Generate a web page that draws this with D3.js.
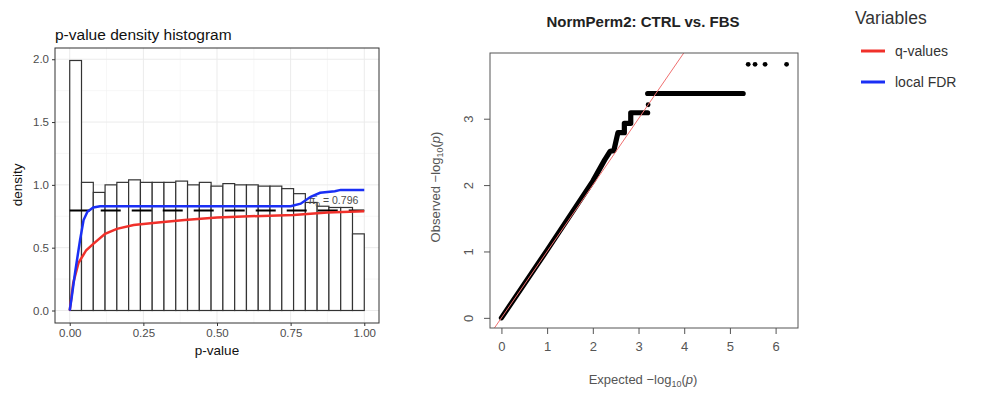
<!DOCTYPE html>
<html>
<head>
<meta charset="utf-8">
<script src="https://cdn.jsdelivr.net/npm/d3@7"></script>
<style>
  body { margin: 0; background: #fff; }
  svg { font-family: "Liberation Sans", Arial, sans-serif; }
</style>
</head>
<body>
<svg id="chart" width="983" height="393"></svg>
<script>
// histogram: 25 bins of width 0.04 on [0, 1]
var binStarts = [0.00, 0.04, 0.08, 0.12, 0.16, 0.20, 0.24, 0.28, 0.32, 0.36, 0.40, 0.44, 0.48,
                 0.52, 0.56, 0.60, 0.64, 0.68, 0.72, 0.76, 0.80, 0.84, 0.88, 0.92, 0.96]
var binDensity = [1.99, 1.02, 0.94, 1.00, 1.02, 1.04, 1.02, 1.02, 1.02, 1.03, 1.00, 1.02, 0.99,
                  1.01, 1.00, 1.00, 0.99, 0.99, 0.97, 0.93, 0.86, 0.83, 0.82, 0.82, 0.61]
var binWidth = 0.04
var pi0 = 0.796

// q-values curve
var qP = [0, 0.012, 0.03, 0.056, 0.08, 0.12, 0.16, 0.217, 0.30, 0.39, 0.50, 0.61, 0.76, 0.875, 1.0]
var qV = [0, 0.22, 0.38, 0.48, 0.53, 0.61, 0.65, 0.68, 0.70, 0.72, 0.74, 0.75, 0.76, 0.78, 0.79]
// local FDR curve
var lP = [0, 0.007, 0.018, 0.035, 0.047, 0.06, 0.08, 0.103, 0.75, 0.784, 0.818, 0.85, 0.90, 0.92, 1.0]
var lV = [0, 0.11, 0.30, 0.56, 0.72, 0.786, 0.82, 0.83, 0.83, 0.85, 0.905, 0.937, 0.95, 0.96, 0.96]

var xTicksL = [0, 0.25, 0.5, 0.75, 1]
var yTicksL = [0, 0.5, 1, 1.5, 2]

// QQ plot trace (null = gap between runs of points)
var qqExpected = [0, 1, 2, 2.26, 2.38, 2.46, 2.50, 2.55, 2.69, 2.69, 2.83, 2.83, 3.20, null, 3.20, 5.29]
var qqObserved = [0, 1.02, 2.06, 2.38, 2.51, 2.52, 2.64, 2.79, 2.79, 2.93, 2.93, 3.09, 3.09, null, 3.38, 3.38]
var lonePointsX = [3.21, 5.40, 5.55, 5.77, 6.24]
var lonePointsY = [3.21, 3.82, 3.82, 3.82, 3.82]
var xTicksR = [0, 1, 2, 3, 4, 5, 6]
var yTicksR = [0, 1, 2, 3]

var legendNames = ["q-values", "local FDR"]
var legendColors = ["#f0302a", "#1a2ff5"]

var svg = d3.select("#chart")

// ---------- left panel: p-value density histogram ----------
var xL = d3.scaleLinear().domain([-0.05, 1.05]).range([55, 379])
var yL = d3.scaleLinear().domain([-0.0995, 2.0895]).range([323, 48])

var left = svg.append("g")

// minor + major grid
var minorX = d3.range(xTicksL.length - 1).map(i => (xTicksL[i] + xTicksL[i + 1]) / 2)
var minorY = d3.range(yTicksL.length - 1).map(i => (yTicksL[i] + yTicksL[i + 1]) / 2)
left.selectAll(".mx").data(minorX).enter().append("line")
  .attr("x1", d => xL(d)).attr("x2", d => xL(d)).attr("y1", yL.range()[0]).attr("y2", yL.range()[1])
  .attr("stroke", "#f2f2f2").attr("stroke-width", 0.6)
left.selectAll(".my").data(minorY).enter().append("line")
  .attr("y1", d => yL(d)).attr("y2", d => yL(d)).attr("x1", xL.range()[0]).attr("x2", xL.range()[1])
  .attr("stroke", "#f2f2f2").attr("stroke-width", 0.6)
left.selectAll(".gx").data(xTicksL).enter().append("line")
  .attr("x1", d => xL(d)).attr("x2", d => xL(d)).attr("y1", yL.range()[0]).attr("y2", yL.range()[1])
  .attr("stroke", "#ebebeb").attr("stroke-width", 1)
left.selectAll(".gy").data(yTicksL).enter().append("line")
  .attr("y1", d => yL(d)).attr("y2", d => yL(d)).attr("x1", xL.range()[0]).attr("x2", xL.range()[1])
  .attr("stroke", "#ebebeb").attr("stroke-width", 1)

// bars
left.selectAll(".bar").data(binStarts).enter().append("rect")
  .attr("x", d => xL(d))
  .attr("width", xL(binWidth) - xL(0))
  .attr("y", (d, i) => yL(binDensity[i]))
  .attr("height", (d, i) => yL(0) - yL(binDensity[i]))
  .attr("fill", "#fff").attr("stroke", "#333").attr("stroke-width", 1.2)

// pi0 line
left.append("line")
  .attr("x1", xL(0)).attr("x2", xL(1)).attr("y1", yL(pi0)).attr("y2", yL(pi0))
  .attr("stroke", "#000").attr("stroke-width", 2).attr("stroke-dasharray", "20,11")

left.append("text")
  .attr("x", xL(0.895)).attr("y", yL(pi0) - 7)
  .attr("text-anchor", "middle").attr("font-size", 10.5).attr("fill", "#4d4d4d")
  .text("\u03C0\u0302")
  .append("tspan").attr("dy", 3).attr("font-size", 8).text("0")
  .select(function () { return this.parentNode })
  .append("tspan").attr("dy", -3).text(" = " + pi0)

var lineL = d3.line().x(d => xL(d[0])).y(d => yL(d[1]))
left.append("path").datum(qP.map((p, i) => [p, qV[i]]))
  .attr("d", lineL).attr("fill", "none").attr("stroke", legendColors[0]).attr("stroke-width", 2.5)
left.append("path").datum(lP.map((p, i) => [p, lV[i]]))
  .attr("d", lineL).attr("fill", "none").attr("stroke", legendColors[1]).attr("stroke-width", 2.5)

// panel border
left.append("rect")
  .attr("x", 55).attr("y", 48).attr("width", 324).attr("height", 275)
  .attr("fill", "none").attr("stroke", "#333").attr("stroke-width", 1)

// axes
var axL = left.append("g").attr("transform", "translate(0,323)")
  .call(d3.axisBottom(xL).tickValues(xTicksL).tickFormat(d3.format(".2f")).tickSize(3).tickPadding(3))
var ayL = left.append("g").attr("transform", "translate(55,0)")
  .call(d3.axisLeft(yL).tickValues(yTicksL).tickFormat(d3.format(".1f")).tickSize(3).tickPadding(3))
;[axL, ayL].forEach(function (a) {
  a.select(".domain").remove()
  a.selectAll("line").attr("stroke", "#333")
  a.selectAll("text").attr("fill", "#4d4d4d").attr("font-size", 11.5)
    .attr("font-family", "Liberation Sans, Arial, sans-serif")
})

left.append("text").attr("x", 55).attr("y", 40)
  .attr("font-size", 15.5).attr("fill", "#111").text("p-value density histogram")
left.append("text").attr("x", xL(0.5)).attr("y", 355)
  .attr("text-anchor", "middle").attr("font-size", 13.5).attr("fill", "#111").text("p-value")
left.append("text").attr("transform", "translate(22," + yL(1) + ") rotate(-90)")
  .attr("text-anchor", "middle").attr("font-size", 13.5).attr("fill", "#111").text("density")

// ---------- right panel: QQ plot ----------
var xR = d3.scaleLinear().domain([-0.25, 6.49]).range([490, 798])
var yR = d3.scaleLinear().domain([-0.153, 3.99]).range([328, 53])

var right = svg.append("g")
right.append("clipPath").attr("id", "qqclip").append("rect")
  .attr("x", 490).attr("y", 53).attr("width", 308).attr("height", 275)

var lineR = d3.line()
  .defined(d => d[0] !== null)
  .x(d => xR(d[0])).y(d => yR(d[1]))
right.append("path").datum(qqExpected.map((e, i) => [e, qqObserved[i]]))
  .attr("d", lineR).attr("fill", "none").attr("stroke", "#000")
  .attr("stroke-width", 5.2).attr("stroke-linecap", "round").attr("stroke-linejoin", "round")
right.selectAll(".pt").data(lonePointsX).enter().append("circle")
  .attr("cx", d => xR(d)).attr("cy", (d, i) => yR(lonePointsY[i])).attr("r", 2.4).attr("fill", "#000")

// y = x reference line
right.append("line").attr("clip-path", "url(#qqclip)")
  .attr("x1", xR(-0.3)).attr("y1", yR(-0.3)).attr("x2", xR(4.2)).attr("y2", yR(4.2))
  .attr("stroke", "#f07070").attr("stroke-width", 1)

right.append("rect").attr("x", 490).attr("y", 53).attr("width", 308).attr("height", 275)
  .attr("fill", "none").attr("stroke", "#555").attr("stroke-width", 1)

var axR = right.append("g").attr("transform", "translate(0,328)")
  .call(d3.axisBottom(xR).tickValues(xTicksR).tickFormat(d3.format("d")).tickSize(6).tickPadding(8))
var ayR = right.append("g").attr("transform", "translate(490,0)")
  .call(d3.axisLeft(yR).tickValues(yTicksR).tickFormat(d3.format("d")).tickSize(6).tickPadding(8))
;[axR, ayR].forEach(function (a) {
  a.select(".domain").remove()
  a.selectAll("line").attr("stroke", "#555")
  a.selectAll("text").attr("fill", "#555").attr("font-size", 13)
    .attr("font-family", "Liberation Sans, Arial, sans-serif")
})
ayR.selectAll("text").attr("text-anchor", "middle").attr("x", 0).attr("dy", "0.32em")
  .attr("transform", "translate(-21,0) rotate(-90)")

right.append("text").attr("x", 643).attr("y", 27).attr("text-anchor", "middle")
  .attr("font-size", 15).attr("font-weight", "bold").attr("fill", "#222").text("NormPerm2: CTRL vs. FBS")

var xlab = right.append("text").attr("x", 643).attr("y", 384).attr("text-anchor", "middle")
  .attr("font-size", 13).attr("fill", "#555")
xlab.append("tspan").text("Expected  \u2212log")
xlab.append("tspan").attr("font-size", 9).attr("dy", 3).text("10")
xlab.append("tspan").attr("dy", -3).text("(")
xlab.append("tspan").attr("font-style", "italic").text("p")
xlab.append("tspan").text(")")

var ylab = right.append("text").attr("transform", "translate(440,187) rotate(-90)").attr("text-anchor", "middle")
  .attr("font-size", 13).attr("fill", "#555")
ylab.append("tspan").text("Observed  \u2212log")
ylab.append("tspan").attr("font-size", 9).attr("dy", 3).text("10")
ylab.append("tspan").attr("dy", -3).text("(")
ylab.append("tspan").attr("font-style", "italic").text("p")
ylab.append("tspan").text(")")

// ---------- legend ----------
var legend = svg.append("g")
legend.append("text").attr("x", 855).attr("y", 24).attr("font-size", 17.5).attr("fill", "#333").text("Variables")
var items = legend.selectAll(".item").data(legendNames).enter().append("g")
  .attr("transform", (d, i) => "translate(0," + (51 + i * 31) + ")")
items.append("line").attr("x1", 861).attr("x2", 885).attr("y1", 0).attr("y2", 0)
  .attr("stroke", (d, i) => legendColors[i]).attr("stroke-width", 3)
items.append("text").attr("x", 895).attr("y", 5).attr("font-size", 14).attr("fill", "#333").text(d => d)
</script>
</body>
</html>
